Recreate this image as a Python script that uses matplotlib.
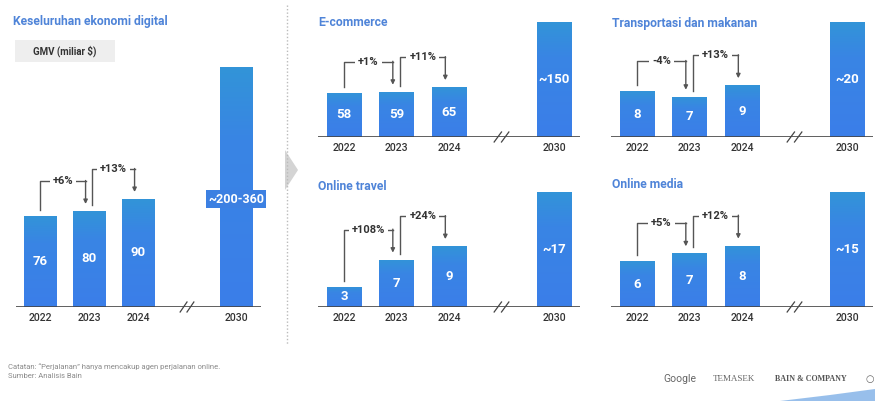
import matplotlib
matplotlib.use("Agg")
import matplotlib.pyplot as plt
import numpy as np
from matplotlib.colors import LinearSegmentedColormap
from matplotlib.patches import Rectangle, Polygon
from matplotlib.lines import Line2D

plt.rcParams['font.family'] = ['Roboto', 'DejaVu Sans']

W, H = 875, 401

tahun = ["2022", "2023", "2024", "2030"]
posisi = [0, 1, 2, 4]

# nilai GMV (miliar $)
ekonomi_digital = [76, 80, 90, 200]
ecommerce = [58, 59, 65, 150]
transportasi = [8, 7, 9, 20]
online_travel = [3, 7, 9, 17]
online_media = [6, 7, 8, 15]

label_ekonomi = ["76", "80", "90", "~200-360"]
label_ecommerce = ["58", "59", "65", "~150"]
label_transportasi = ["8", "7", "9", "~20"]
label_travel = ["3", "7", "9", "~17"]
label_media = ["6", "7", "8", "~15"]

pertumbuhan_ekonomi = ["+6%", "+13%"]
pertumbuhan_ecommerce = ["+1%", "+11%"]
pertumbuhan_transportasi = ["-4%", "+13%"]
pertumbuhan_travel = ["+108%", "+24%"]
pertumbuhan_media = ["+5%", "+12%"]

biru_judul = "#4f84d8"
abu = "#555555"
gradien = LinearSegmentedColormap.from_list(
    "bar", [(0, "#3b7ee9"), (0.7, "#3985e4"), (1, "#3294d8")])


def fx(x):
    return x / W


def fy(y):
    return 1 - y / H


fig = plt.figure(figsize=(W / 100, H / 100), dpi=100)


def panel(x0, unit, baseline, height, bar_px, nilai, label, growth, besar=False):
    ax = fig.add_axes([fx(x0), (H - baseline) / H, 5 * unit / W, height / H])
    ytop = nilai[-1] * height / bar_px
    k = ytop / height  # data per pixel
    bars = ax.bar(posisi, nilai, width=0.66, color="#3b7ee9", zorder=2)
    grad = np.linspace(0, 1, 128).reshape(-1, 1)
    for b in bars:
        im = ax.imshow(grad, extent=[b.get_x(), b.get_x() + b.get_width(), 0, b.get_height()],
                       origin="lower", aspect="auto", cmap=gradien, zorder=3)
        im.set_clip_path(b)
    ax.set_xlim(-0.5, 4.5)
    ax.set_ylim(0, ytop)
    for s in ax.spines.values():
        s.set_visible(False)
    ax.set_yticks([])
    ax.set_xticks(posisi)
    ax.set_xticklabels(tahun, fontsize=7.5, color="#333333", fontweight="medium")
    ax.tick_params(axis="x", length=0, pad=4)
    ax.axhline(0, color="#444444", lw=1.2, zorder=4)
    # tanda putus //
    for dx in (-0.07, 0.07):
        ax.plot([3 + dx - 0.07, 3 + dx + 0.07], [-5 * k, 5 * k], color="#444444",
                lw=0.9, clip_on=False, zorder=5)

    for i, (p, v, t) in enumerate(zip(posisi, nilai, label)):
        if besar and i == 3:
            ax.text(p, v * 0.45, t, ha="center", va="center", color="white", fontsize=9,
                    fontweight="bold", zorder=6,
                    bbox=dict(fc="#3c80e2", ec="none", pad=1.5))
        else:
            ax.text(p, v / 2, t, ha="center", va="center", color="white", fontsize=9.5,
                    fontweight="bold", zorder=6)

    pasangan = [(posisi[0], nilai[0], posisi[1] - 0.07, nilai[1]),
                (posisi[1] + 0.07, nilai[1], posisi[2] - 0.07, nilai[2])]
    for (xa, ya, xb, yb), g in zip(pasangan, growth):
        yh = max(ya, yb) + 30 * k
        ax.plot([xa, xa, xb], [ya + 6 * k, yh, yh], color=abu, lw=1, clip_on=False, zorder=5)
        ax.annotate("", xy=(xb, yb + 7 * k), xytext=(xb, yh + 0.5 * k),
                    arrowprops=dict(arrowstyle="-|>", color=abu, lw=1, mutation_scale=6,
                                    shrinkA=0, shrinkB=0), annotation_clip=False, zorder=5)
        ax.text((xa + xb) / 2, yh, g, ha="center", va="center", fontsize=8,
                fontweight="bold", color="#333333", zorder=6,
                bbox=dict(fc="white", ec="none", pad=2))
    return ax


panel(15.5, 49, 307, 247, 240, ekonomi_digital, label_ekonomi, pertumbuhan_ekonomi, besar=True)
panel(317.75, 52.5, 137, 120, 115, ecommerce, label_ecommerce, pertumbuhan_ecommerce)
panel(610.75, 52.5, 137, 120, 115, transportasi, label_transportasi, pertumbuhan_transportasi)
panel(317.75, 52.5, 307, 120, 115, online_travel, label_travel, pertumbuhan_travel)
panel(610.75, 52.5, 307, 120, 115, online_media, label_media, pertumbuhan_media)

# judul panel
judul = [("Keseluruhan ekonomi digital", 13, 22), ("E-commerce", 318, 22),
         ("Transportasi dan makanan", 612, 24), ("Online travel", 318, 186),
         ("Online media", 612, 185)]
for t, x, y in judul:
    fig.text(fx(x), fy(y), t, ha="left", va="center", fontsize=8.7, fontweight="bold",
             color=biru_judul)

# kotak GMV
fig.patches.append(Rectangle((fx(15), fy(62)), 100 / W, 22 / H, transform=fig.transFigure,
                             fc="#eeeeee", ec="none"))
fig.text(fx(65), fy(51), "GMV (miliar $)", ha="center", va="center", fontsize=7,
         fontweight="bold", color="#333333")

# pemisah dan panah
fig.lines.append(Line2D([fx(287), fx(287)], [fy(5), fy(345)], transform=fig.transFigure,
                        color="#bbbbbb", lw=1, ls=(0, (1, 1.5))))
fig.patches.append(Polygon([(fx(285), fy(150)), (fx(298), fy(170)), (fx(285), fy(190))],
                           closed=True, transform=fig.transFigure, fc="#d4d4d4", ec="none"))

# catatan
fig.text(fx(8), fy(367), "Catatan: \u201cPerjalanan\u201d hanya mencakup agen perjalanan online.",
         fontsize=5.5, color="#8a8a8a", va="center")
fig.text(fx(8), fy(376), "Sumber: Analisis Bain", fontsize=5.5, color="#8a8a8a", va="center")

# logo
fig.text(fx(663), fy(379), "Google", fontsize=7.5, color="#666666", va="center")
fig.text(fx(713), fy(379), "TEMASEK", fontsize=6.5, color="#666666", va="center",
         family="Liberation Serif")
fig.text(fx(775), fy(379), "BAIN & COMPANY", fontsize=5.8, color="#555555", va="center",
         family="Liberation Serif", fontweight="bold")
fig.text(fx(866), fy(379), "\u25cb", fontsize=7, color="#666666", va="center")
fig.patches.append(Polygon([(fx(780), fy(401)), (fx(830), fy(395)), (fx(875), fy(389)),
                            (fx(875), fy(401))], closed=True, transform=fig.transFigure,
                           fc="#7fb0e6", ec="none", alpha=0.8))

fig.savefig("out.png", dpi=100)
